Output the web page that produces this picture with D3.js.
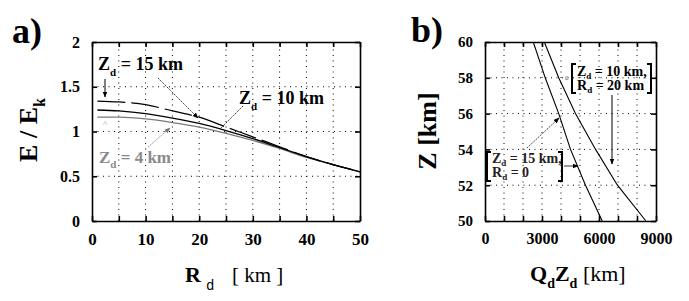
<!DOCTYPE html>
<html>
<head>
<meta charset="utf-8">
<script src="https://cdn.jsdelivr.net/npm/d3@7"></script>
<style>
  body { margin: 0; background: #fff; }
  svg { display: block; }
</style>
</head>
<body>
<svg id="chart" width="689" height="301"></svg>
<script>
// Panel a: E / Ek against Rd, one curve per source depth Zd
const rd = [1, 5, 10, 15, 20, 25, 30, 35, 40, 45, 50]
const eZd15 = [1.34, 1.33, 1.30, 1.23, 1.16, 1.05, 0.94, 0.83, 0.72, 0.63, 0.55]
const eZd10 = [1.24, 1.23, 1.20, 1.15, 1.09, 1.01, 0.92, 0.82, 0.72, 0.63, 0.55]
const eZd4 = [1.16, 1.16, 1.14, 1.10, 1.05, 0.98, 0.90, 0.81, 0.71, 0.63, 0.55]
const aXTicks = d3.range(0, 51, 5)
const aYTicks = [0, 0.5, 1, 1.5, 2]

// Panel b: altitude Z against Qd*Zd
const zKm = [50, 52, 54, 56, 58, 60]
const qzZd15 = [6170, 5290, 4500, 3880, 3170, 2540]
const qzZd10 = [8470, 6970, 5820, 4760, 3880, 3120]
const bXTicks = d3.range(0, 9001, 1000)
const bYTicks = [50, 52, 54, 56, 58, 60]

const SERIF = 'Liberation Serif, DejaVu Serif, serif'

const svg = d3.select('#chart')
svg.append('rect').attr('width', 689).attr('height', 301).attr('fill', '#fff')

const defs = svg.append('defs')
function arrowMarker(id, color) {
  defs.append('marker')
    .attr('id', id)
    .attr('viewBox', '0 0 10 10')
    .attr('refX', 9).attr('refY', 5)
    .attr('markerWidth', 6).attr('markerHeight', 6)
    .attr('markerUnits', 'userSpaceOnUse')
    .attr('orient', 'auto')
    .append('path').attr('d', 'M0,1L10,5L0,9Z').attr('fill', color)
}
arrowMarker('arr-black', '#000')
arrowMarker('arr-gray', '#777')

// Text with subscripts: parts = [[string, isSub], ...]
function subText(parent, x, y, parts, opts) {
  const size = opts.size
  const shift = opts.shift || 0.32
  const t = parent.append('text')
    .attr('x', x).attr('y', y)
    .attr('font-size', size)
    .attr('font-weight', opts.weight || 'bold')
    .attr('fill', opts.fill || '#000')
  let prevSub = false
  parts.forEach(([s, sub]) => {
    const sp = t.append('tspan').text(s)
    if (sub) sp.attr('font-size', Math.round(size * 0.62)).attr('dy', size * shift)
    else if (prevSub) sp.attr('dy', -size * shift)
    prevSub = sub
  })
  return t
}

// Boxed frame with dotted grid and inward ticks on all four sides
function frame(g, x, y, xTicks, yTicks, xFmt, yFmt, fs) {
  const [x0, x1] = x.range()
  const [y0, y1] = y.range()
  const inner = (v, lo, hi) => v > lo && v < hi

  g.append('g').selectAll('line.vg')
    .data(xTicks.filter(v => inner(v, x.domain()[0], x.domain()[1])))
    .join('line')
    .attr('x1', d => x(d)).attr('x2', d => x(d))
    .attr('y1', y0).attr('y2', y1)
    .attr('stroke', '#000').attr('stroke-width', 1)
    .attr('stroke-dasharray', '1,4.5')
  g.append('g').selectAll('line.hg')
    .data(yTicks.filter(v => inner(v, y.domain()[0], y.domain()[1])))
    .join('line')
    .attr('y1', d => y(d)).attr('y2', d => y(d))
    .attr('x1', x0).attr('x2', x1)
    .attr('stroke', '#000').attr('stroke-width', 1)
    .attr('stroke-dasharray', '1,4.5')

  const styleAxis = a => {
    a.attr('font-family', null)
    a.selectAll('path.domain').attr('stroke', '#000').attr('stroke-width', 1.6)
    a.selectAll('.tick line').attr('stroke', '#000').attr('stroke-width', 1.6)
    a.selectAll('.tick text').attr('font-weight', 'bold').attr('fill', '#000')
  }
  g.append('g').attr('transform', `translate(0,${y0})`)
    .call(d3.axisBottom(x).tickValues(xTicks).tickSize(-5).tickSizeOuter(0).tickPadding(12).tickFormat(xFmt))
    .call(styleAxis)
    .selectAll('.tick text').attr('font-size', fs.x)
  g.append('g').attr('transform', `translate(0,${y1})`)
    .call(d3.axisTop(x).tickValues(xTicks).tickSize(-5).tickSizeOuter(0).tickFormat(''))
    .call(styleAxis)
  g.append('g').attr('transform', `translate(${x0},0)`)
    .call(d3.axisLeft(y).tickValues(yTicks).tickSize(-5).tickSizeOuter(0).tickPadding(12).tickFormat(yFmt))
    .call(styleAxis)
    .selectAll('.tick text').attr('font-size', fs.y)
  g.append('g').attr('transform', `translate(${x1},0)`)
    .call(d3.axisRight(y).tickValues(yTicks).tickSize(-5).tickSizeOuter(0).tickFormat(''))
    .call(styleAxis)
}

// ---------- panel a ----------
const ax = d3.scaleLinear().domain([0, 50]).range([92, 360])
const ay = d3.scaleLinear().domain([0, 2]).range([221, 42])
const ga = svg.append('g')

frame(ga, ax, ay, aXTicks, aYTicks,
  d => (d % 10 === 0 ? d : ''),
  d => d,
  { x: 17, y: 16 })

const aLine = vals => d3.line()
  .x((d, i) => ax(rd[i]))
  .y(d => ay(d))
  .curve(d3.curveMonotoneX)(vals)

ga.append('path').attr('d', aLine(eZd4))
  .attr('fill', 'none').attr('stroke', '#7a7a7a').attr('stroke-width', 1.3)
ga.append('path').attr('d', aLine(eZd10))
  .attr('fill', 'none').attr('stroke', '#000').attr('stroke-width', 1.3)
ga.append('path').attr('d', aLine(eZd15))
  .attr('fill', 'none').attr('stroke', '#000').attr('stroke-width', 1.2)
  .attr('stroke-dasharray', '28,6')

// annotations a
subText(ga, 98, 70, [['Z', false], ['d', true], [' = 15 km', false]], { size: 18 })
subText(ga, 239, 104, [['Z', false], ['d', true], [' = 10 km', false]], { size: 18 })
subText(ga, 99, 163, [['Z', false], ['d', true], [' = 4 km', false]], { size: 17, fill: '#8a8a8a' })
ga.append('text').attr('x', 103).attr('y', 127).attr('font-size', 9).attr('fill', '#999').text('^')

ga.append('line').attr('x1', 105).attr('y1', 79).attr('x2', 105).attr('y2', 97)
  .attr('stroke', '#000').attr('stroke-width', 1).attr('marker-end', 'url(#arr-black)')
ga.append('line').attr('x1', 158).attr('y1', 78).attr('x2', 198).attr('y2', 118)
  .attr('stroke', '#000').attr('stroke-width', 0.8).attr('stroke-dasharray', '1.5,1')
  .attr('marker-end', 'url(#arr-black)')
ga.append('line').attr('x1', 243).attr('y1', 106).attr('x2', 220).attr('y2', 129)
  .attr('stroke', '#000').attr('stroke-width', 0.8).attr('stroke-dasharray', '1.5,1')
ga.append('line').attr('x1', 148).attr('y1', 147).attr('x2', 170).attr('y2', 128)
  .attr('stroke', '#777').attr('stroke-width', 0.8).attr('stroke-dasharray', '1.5,1')
  .attr('marker-end', 'url(#arr-gray)')

// titles a
svg.append('text').attr('x', 12).attr('y', 43)
  .attr('font-size', 36).attr('font-weight', 'bold').text('a)')
const yta = svg.append('g').attr('transform', 'translate(37,130) rotate(-90)')
subText(yta, 0, 0, [['E / E', false], ['k', true]], { size: 26 }).attr('text-anchor', 'middle')
svg.append('text').attr('x', 185).attr('y', 282)
  .attr('font-size', 22).attr('font-weight', 'bold').text('R')
svg.append('text').attr('x', 206).attr('y', 290)
  .attr('font-size', 14).attr('class', 'mono').text('d')
svg.append('text').attr('x', 232).attr('y', 282)
  .attr('font-size', 21).text('[ km ]')

// ---------- panel b ----------
const bx = d3.scaleLinear().domain([0, 9000]).range([485, 656])
const by = d3.scaleLinear().domain([50, 60]).range([221, 42])
const gb = svg.append('g')

frame(gb, bx, by, bXTicks, bYTicks,
  d => (d % 3000 === 0 ? d : ''),
  d => d,
  { x: 16, y: 15 })

const bLine = vals => d3.line()
  .x(d => bx(d))
  .y((d, i) => by(zKm[i]))(vals)

gb.append('path').attr('d', bLine(qzZd15))
  .attr('fill', 'none').attr('stroke', '#000').attr('stroke-width', 1.1)
gb.append('path').attr('d', bLine(qzZd10))
  .attr('fill', 'none').attr('stroke', '#000').attr('stroke-width', 1.1)

function brackets(g, xl, xr, yt, yb) {
  g.append('path')
    .attr('d', `M${xl + 4},${yt}H${xl}V${yb}H${xl + 4}M${xr - 4},${yt}H${xr}V${yb}H${xr - 4}`)
    .attr('fill', 'none').attr('stroke', '#000').attr('stroke-width', 2)
}

brackets(gb, 572, 651, 64, 93)
subText(gb, 577, 76, [['Z', false], ['d', true], [' = 10 km,', false]], { size: 14, shift: 0.2 })
subText(gb, 577, 90, [['R', false], ['d', true], [' = 20 km', false]], { size: 14, shift: 0.2 })
gb.append('text').attr('x', 565).attr('y', 80).attr('font-size', 8).attr('fill', '#555').text('c')

brackets(gb, 487, 562, 152, 181)
subText(gb, 492, 163, [['Z', false], ['d', true], [' = 15 km,', false]], { size: 14, fill: '#222', shift: 0.2 })
subText(gb, 492, 177, [['R', false], ['d', true], [' = 0', false]], { size: 14, fill: '#222', shift: 0.2 })

gb.append('line').attr('x1', 612).attr('y1', 95).attr('x2', 612).attr('y2', 164)
  .attr('stroke', '#000').attr('stroke-width', 1).attr('marker-end', 'url(#arr-black)')
gb.append('line').attr('x1', 527).attr('y1', 148).attr('x2', 559).attr('y2', 118)
  .attr('stroke', '#000').attr('stroke-width', 0.8).attr('stroke-dasharray', '1.5,1')
  .attr('marker-end', 'url(#arr-black)')
gb.append('line').attr('x1', 564).attr('y1', 166).attr('x2', 578).attr('y2', 166)
  .attr('stroke', '#000').attr('stroke-width', 0.8).attr('marker-end', 'url(#arr-black)')

// titles b
svg.append('text').attr('x', 411).attr('y', 42)
  .attr('font-size', 36).attr('font-weight', 'bold').text('b)')
const ytb = svg.append('g').attr('transform', 'translate(436,131) rotate(-90)')
ytb.append('text').attr('text-anchor', 'middle').attr('font-size', 26).attr('font-weight', 'bold')
  .text('Z [km]')
subText(svg, 530, 281, [['Q', false], ['d', true], ['Z', false], ['d', true], [' ', false]], { size: 22 })
  .append('tspan').attr('font-weight', 'normal').text('[km]')

// every text in a Times-like serif; the Rd subscript in a mono face as in the original
svg.selectAll('text').attr('font-family', SERIF)
svg.selectAll('text.mono').attr('font-family', 'Liberation Mono, DejaVu Sans Mono, monospace')
</script>
</body>
</html>
